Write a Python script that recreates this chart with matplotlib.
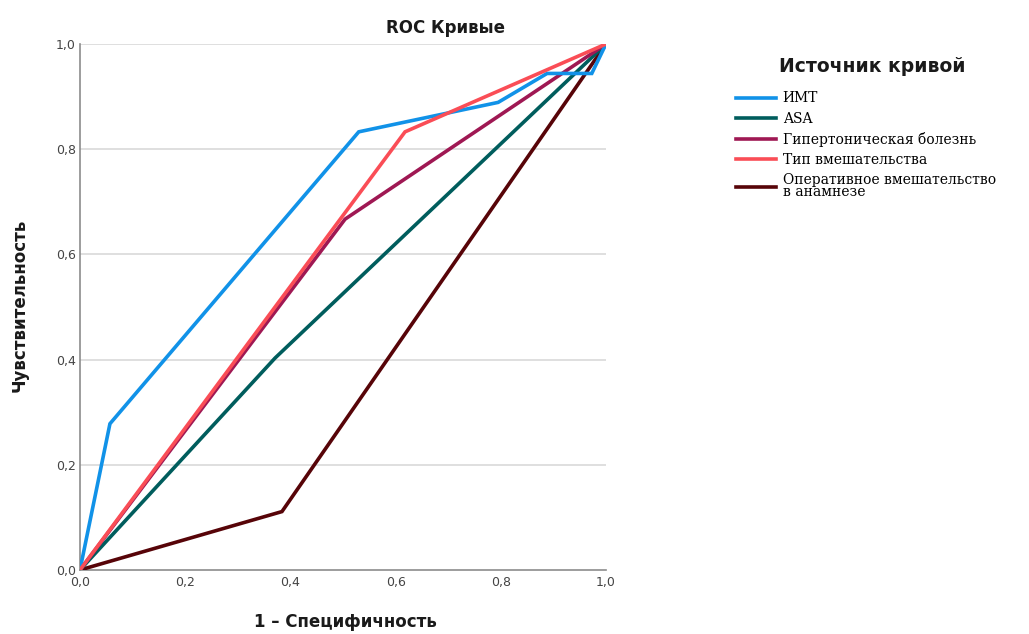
# ROC curves for risk factors (SPSS-like style)
import numpy as np
import matplotlib
matplotlib.use('Agg')
import matplotlib.pyplot as plt

# data: (1 - specificity, sensitivity)
imt_x = [0.0, 0.057, 0.53, 0.795, 0.888, 0.973, 1.0]
imt_y = [0.0, 0.278, 0.833, 0.889, 0.944, 0.944, 1.0]

asa_x = [0.0, 0.371, 1.0]
asa_y = [0.0, 0.403, 1.0]

gb_x = [0.0, 0.504, 1.0]
gb_y = [0.0, 0.667, 1.0]

tip_x = [0.0, 0.618, 1.0]
tip_y = [0.0, 0.833, 1.0]

oper_x = [0.0, 0.384, 1.0]
oper_y = [0.0, 0.111, 1.0]

labels = ['ИМТ', 'ASA', 'Гипертоническая болезнь', 'Тип вмешательства',
          'Оперативное вмешательство\nв анамнезе']
colors = ['#1192e8', '#005d5d', '#9f1853', '#fa4d56', '#570408']
ticks = [0.0, 0.2, 0.4, 0.6, 0.8, 1.0]
tick_labels = ['0,0', '0,2', '0,4', '0,6', '0,8', '1,0']

fig = plt.figure(figsize=(10.29, 6.34), dpi=100)
ax = fig.add_axes([0.0777, 0.101, 0.5112, 0.8296])

series = [(imt_x, imt_y), (asa_x, asa_y), (gb_x, gb_y), (tip_x, tip_y), (oper_x, oper_y)]
# drawing order: red ends up on top, like the reference
order = [4, 1, 2, 0, 3]
handles = [None] * 5
for k, i in enumerate(order):
    xs, ys = series[i]
    ln, = ax.plot(xs, ys, color=colors[i], linewidth=2.6, label=labels[i],
                  solid_joinstyle='miter', zorder=3 + k * 0.1)
    handles[i] = ln

ax.set_xlim(0, 1)
ax.set_ylim(0, 1)
ax.set_xticks(ticks)
ax.set_xticklabels(tick_labels)
ax.set_yticks(ticks)
ax.set_yticklabels(tick_labels)
ax.tick_params(axis='both', labelsize=9, colors='#444444', length=0, pad=3)
ax.tick_params(axis='x', pad=4)

for y in ticks[1:]:
    ax.axhline(y, color='#d9d9d9', linewidth=1.2, zorder=1)

for s in ['top', 'right']:
    ax.spines[s].set_visible(False)
for s in ['left', 'bottom']:
    ax.spines[s].set_color('#8c8c8c')
    ax.spines[s].set_linewidth(1.2)

fig.text(445 / 1029, 1 - 28 / 634, 'ROC Кривые', ha='center', va='center',
         fontsize=12, fontweight='bold', color='#1a1a1a')
fig.text(345 / 1029, 1 - 622 / 634, '1 – Специфичность', ha='center', va='center',
         fontsize=12, fontweight='bold', color='#1a1a1a')
fig.text(20 / 1029, 1 - 305 / 634, 'Чувствительность', ha='center', va='center',
         rotation=90, fontsize=12, fontweight='bold', color='#1a1a1a')

# legend title drawn separately to control the gap above the entries
fig.text(872 / 1029, 1 - 67 / 634, 'Источник кривой', ha='center', va='center',
         fontsize=13.5, fontweight='bold', color='#1a1a1a')
leg = fig.legend(handles=handles, labels=labels, loc='upper left',
                 bbox_to_anchor=(723 / 1029, 1 - 79 / 634), frameon=False,
                 handlelength=2.9, handletextpad=0.5,
                 labelspacing=0.45, prop={'family': 'DejaVu Serif', 'size': 10})
for t in leg.get_texts():
    t.set_linespacing(0.8)

plt.savefig('out.png', dpi=100)
